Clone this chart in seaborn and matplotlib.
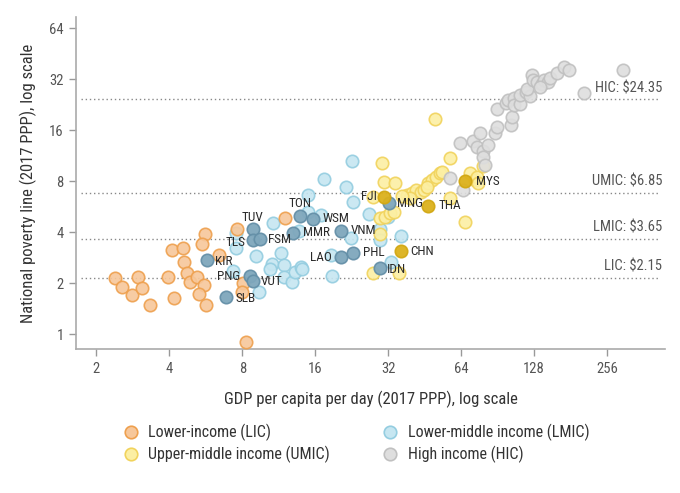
import pandas as pd
import matplotlib
matplotlib.use("Agg")
import matplotlib.pyplot as plt
from matplotlib.lines import Line2D
from matplotlib.ticker import NullLocator
import seaborn as sns

# ---- data ----
# lower-income countries
lic_gdp = [2.39, 2.54, 2.81, 2.97, 3.09, 3.32, 3.94, 4.20, 4.12, 4.54, 5.59, 5.46, 4.58,
           4.75, 4.85, 5.21, 5.56, 5.31, 5.64, 6.42, 8.31, 7.63, 8.06, 8.0, 12.0]
lic_pov = [2.13, 1.90, 1.69, 2.16, 1.86, 1.49, 2.16, 1.64, 3.12, 3.22, 3.88, 3.39, 2.65,
           2.28, 2.03, 2.16, 1.94, 1.72, 1.48, 2.93, 0.90, 4.15, 1.99, 1.77, 4.87]

# lower-middle income (unlabelled)
lmic_gdp = [7.54, 7.56, 7.35, 9.36, 9.14, 10.7, 11.6, 10.6, 10.4, 11.9, 11.9, 12.8, 13.2,
            14.0, 14.1, 13.7, 14.9, 15.0, 16.9, 17.4, 21.4, 22.8, 22.5, 18.8, 22.7, 26.7,
            29.7, 29.7, 36.1, 32.9, 18.5, 32.0]
lmic_pov = [3.93, 3.22, 2.35, 1.78, 2.91, 4.55, 3.01, 2.58, 2.42, 2.56, 2.17, 2.03, 2.34,
            2.50, 2.43, 4.08, 5.27, 6.66, 5.04, 8.2, 7.38, 6.01, 3.71, 2.21, 10.5, 5.11,
            4.15, 3.59, 3.79, 2.67, 2.93, 4.9]

# upper-middle income (unlabelled)
umic_gdp = [30.1, 30.6, 34.0, 57.3, 50.0, 27.7, 29.5, 31.1, 32.4, 33.7, 29.7, 27.8, 35.6,
            66.5, 69.7, 73.1, 74.5, 78.6, 75.4, 57.6, 38.2, 40.1, 41.8, 43.6, 45.0, 46.5,
            48.5, 50.5, 52.4, 39.4, 36.5, 46.2, 53.3]
umic_pov = [10.3, 7.9, 7.82, 10.9, 18.6, 6.41, 4.88, 4.92, 5.16, 5.27, 3.88, 2.30, 2.28,
            4.6, 8.88, 8.11, 8.45, 9.81, 7.75, 6.32, 6.61, 6.77, 7.08, 6.92, 7.08, 7.75,
            8.11, 8.48, 8.88, 6.32, 6.53, 7.40, 9.08]

# high income
hic_gdp = [57.3, 65.4, 63.4, 71.5, 76.6, 74.3, 79.1, 82.9, 78.6, 80.0, 88.4, 90.1, 102.6,
           103.9, 90.1, 97.7, 100.3, 105.3, 106.2, 111.5, 111.5, 118.6, 123.2, 119.3,
           125.6, 127.2, 131.7, 137.7, 140.8, 146.7, 149.0, 159.6, 170.2, 178.4, 205.8,
           298.8, 135.6]
hic_pov = [8.30, 7.14, 13.4, 13.8, 15.3, 12.8, 12.1, 13.0, 11.1, 9.94, 15.3, 16.7, 17.1,
           19.2, 21.4, 23.3, 24.1, 24.7, 22.5, 22.9, 25.9, 26.9, 25.4, 28.2, 33.8, 31.6,
           30.9, 30.1, 31.6, 30.9, 32.4, 34.8, 38.0, 36.2, 26.6, 36.2, 28.7]

# highlighted countries
hl_code = ["KIR", "TUV", "TLS", "FSM", "PNG", "VUT", "SLB", "TON", "WSM", "MMR", "VNM",
           "LAO", "PHL", "MNG", "IDN", "FJI", "THA", "CHN", "MYS"]
hl_group = ["LMIC"] * 15 + ["UMIC"] * 4
hl_gdp = [5.72, 8.82, 8.82, 9.43, 8.57, 8.82, 6.87, 13.9, 15.7, 12.9, 20.5, 20.5, 23.0,
          32.1, 29.5, 30.6, 46.5, 36.2, 66.3]
hl_pov = [2.73, 4.17, 3.59, 3.64, 2.20, 2.05, 1.65, 5.01, 4.75, 3.98, 4.04, 2.87, 3.02,
          5.91, 2.44, 6.46, 5.72, 3.09, 8.04]

lines = [("HIC", 24.35), ("UMIC", 6.85), ("LMIC", 3.65), ("LIC", 2.15)]

groups = {
    "LIC": ("Lower-income (LIC)", lic_gdp, lic_pov),
    "LMIC": ("Lower-middle income (LMIC)", lmic_gdp, lmic_pov),
    "UMIC": ("Upper-middle income (UMIC)", umic_gdp, umic_pov),
    "HIC": ("High income (HIC)", hic_gdp, hic_pov),
}
face = {"LIC": "#f7c79a", "LMIC": "#c6e6f1", "UMIC": "#fcefa3", "HIC": "#dedede"}
edge = {"LIC": "#eea04e", "LMIC": "#94cde0", "UMIC": "#f1d35c", "HIC": "#c0c0c0"}
hl_face = {"LMIC": "#7fa7bc", "UMIC": "#dcb11c"}
hl_edge = {"LMIC": "#6590a8", "UMIC": "#d2a814"}

# label offsets in pixels (dx, dy, ha)
offs = {"KIR": (8, -1, "left"), "TUV": (0, 12, "center"), "TLS": (-7, -2, "right"),
        "FSM": (8, 0, "left"), "PNG": (-9, 0, "right"), "VUT": (8, 0, "left"),
        "SLB": (9, -1, "left"), "TON": (0, 12, "center"), "WSM": (9, 1, "left"),
        "MMR": (10, 0, "left"), "VNM": (9, 1, "left"), "LAO": (-9, -1, "right"),
        "PHL": (10, 0, "left"), "MNG": (8, 0, "left"), "IDN": (7, -1, "left"),
        "FJI": (-7, 0, "right"), "THA": (11, 0, "left"), "CHN": (9, 0, "left"),
        "MYS": (11, -1, "left")}

sns.set_style("white")
plt.rcParams["font.family"] = ["Roboto Condensed", "Open Sans Condensed",
                               "DejaVu Sans Condensed", "Lato", "DejaVu Sans"]

fig = plt.figure(figsize=(6.8, 4.93), dpi=100)
ax = fig.add_axes([0.112, 0.292, 0.866, 0.673])

order = ["LMIC", "UMIC", "HIC", "LIC"]
for g in order:
    label, xs, ys = groups[g]
    df = pd.DataFrame({"gdp": xs, "pov": ys})
    sns.scatterplot(data=df, x="gdp", y="pov", ax=ax, s=80, color=face[g],
                    edgecolor=edge[g], linewidth=1.2, alpha=0.9, zorder=3)

hl = pd.DataFrame({"code": hl_code, "group": hl_group, "gdp": hl_gdp, "pov": hl_pov})
for g, sub in hl.groupby("group"):
    sns.scatterplot(data=sub, x="gdp", y="pov", ax=ax, s=80, color=hl_face[g],
                    edgecolor=hl_edge[g], linewidth=1.2, alpha=0.95, zorder=4)
for _, r in hl.iterrows():
    dx, dy, ha = offs[r["code"]]
    ax.annotate(r["code"], (r["gdp"], r["pov"]), xytext=(dx, dy),
                textcoords="offset pixels", ha=ha, va="center",
                fontsize=9.5, color="#2b2b2b", zorder=5)

ax.set_xscale("log", base=2)
ax.set_yscale("log", base=2)
ax.set_xlim(1.65, 444)
ax.set_ylim(0.816, 74.3)

for name, v in lines:
    ax.axhline(v, xmin=0.008, xmax=0.99, color="#888888", linestyle=(0, (1, 2)),
               linewidth=1, zorder=1)
    ax.annotate(f"{name}: \\${v:.2f}", (0.995, v), xycoords=("axes fraction", "data"),
                xytext=(0, 4), textcoords="offset pixels", ha="right", va="bottom",
                fontsize=10.5, color="#555555")

xt = [2, 4, 8, 16, 32, 64, 128, 256]
yt = [1, 2, 4, 8, 16, 32, 64]
ax.set_xticks(xt)
ax.set_xticklabels([str(t) for t in xt])
ax.set_yticks(yt)
ax.set_yticklabels([str(t) for t in yt])
ax.xaxis.set_minor_locator(NullLocator())
ax.yaxis.set_minor_locator(NullLocator())
ax.tick_params(axis="both", which="major", length=5, width=1, color="#999999",
               labelcolor="#555555", labelsize=10.5, bottom=True, left=True, pad=4)

sns.despine(ax=ax)
for sp in ["left", "bottom"]:
    ax.spines[sp].set_color("#aaaaaa")
    ax.spines[sp].set_linewidth(1.2)

ax.set_xlabel("GDP per capita per day (2017 PPP), log scale", fontsize=12,
              color="#333333", labelpad=11)
ax.set_ylabel("National poverty line (2017 PPP), log scale", fontsize=12,
              color="#333333", labelpad=9)


def legend_handle(g):
    return Line2D([], [], marker="o", linestyle="", markersize=9,
                  markerfacecolor=face[g], markeredgecolor=edge[g],
                  markeredgewidth=1.2, label=groups[g][0])


for cols, x0 in [(["LIC", "UMIC"], 0.178), (["LMIC", "HIC"], 0.560)]:
    fig.legend(handles=[legend_handle(g) for g in cols], loc="upper left",
               bbox_to_anchor=(x0, 0.14), frameon=False, fontsize=11.5,
               handletextpad=0.5, labelspacing=0.3, labelcolor="#333333",
               borderaxespad=0, borderpad=0, handlelength=1.2)

fig.savefig("out.png", dpi=100)
